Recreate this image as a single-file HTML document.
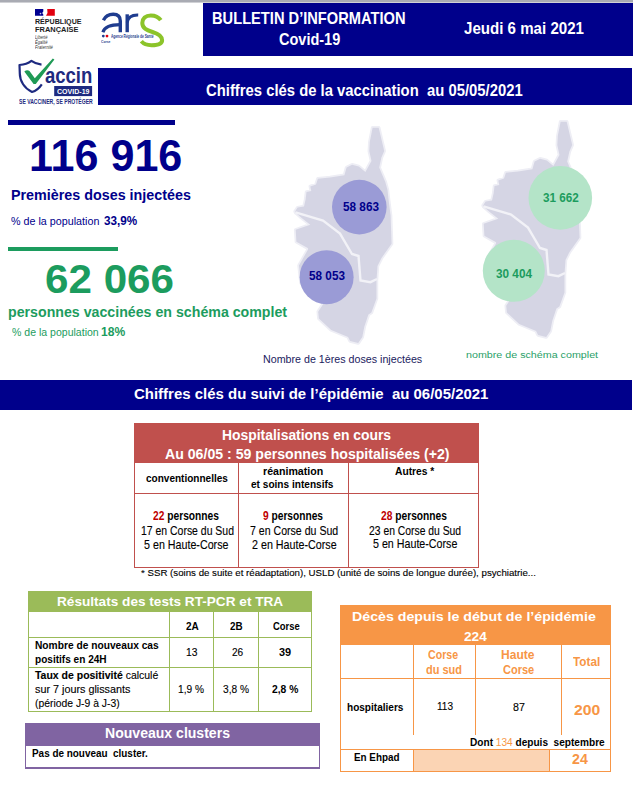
<!DOCTYPE html>
<html><head><meta charset="utf-8">
<style>
html,body{margin:0;padding:0;background:#fff;}
body{width:633px;height:790px;position:relative;overflow:hidden;font-family:"Liberation Sans",sans-serif;}
.b{position:absolute;box-sizing:border-box;}
.t{position:absolute;white-space:nowrap;line-height:1;transform-origin:0 0;font-family:"Liberation Sans",sans-serif;}
</style></head><body>
<div class="b" style="left:0;top:0;width:633px;height:2px;background:#a9abb3"></div>
<div class="b" style="left:0;top:2px;width:633px;height:1px;background:#d0d1d5"></div>
<div class="b" style="left:203px;top:3px;width:430px;height:53px;background:#00008b"></div>
<div class="b" style="left:98px;top:68px;width:534px;height:37px;background:#00008b"></div>
<div class="b" style="left:8px;top:120px;width:167px;height:5px;background:#00008b"></div>
<div class="b" style="left:8px;top:247px;width:110px;height:4px;background:#1c9c5e"></div>
<div class="b" style="left:0;top:380px;width:632px;height:30px;background:#00008b"></div>
<svg class="b" style="left:0;top:0" width="633" height="790" viewBox="0 0 633 790">
<defs>
<path id="corse" d="M372.6,127.7 L378.7,127.7 L384.2,151 L381.4,157.6 L379.2,167.6 L382,174.2 L385.3,182 L387.5,190 L388.6,200 L390.6,215.4 L391.6,243.7 L381.5,257.9 L377.5,266 L376.5,280.2 L376.5,298.4 L371.4,312.6 L368.4,314.6 L364.3,326.8 L362.3,336.9 L358.2,343 L350.1,341 L348.1,336.9 L331.2,330 L318.9,318.5 L318.2,311.8 L323.6,303.4 L308.4,292 L300.9,282.6 L299,265.5 L308.3,249 L307.7,248.1 L296.4,241.8 L295.7,229.8 L310.3,224.7 L301.4,217.7 L295.7,212.7 L295.1,211.4 L297.6,207.6 L304,206.4 L305.6,199.6 L306.5,192 L311.3,191.1 L310.3,186.4 L316,184.5 L317.9,178.8 L330,177.5 L344.4,175.3 L346.6,167.6 L352.1,164.8 L358.8,166.5 L365.4,172 L371.5,160.9 L369.3,151 L369.8,142.1 Z"/>
<path id="div" d="M295.5,212.3 L323,220.5 L340,233.6 L352,254 L358.5,256 L360.5,280.5 L370.4,282.2 L377,279"/>
</defs>
<g>
<use href="#corse" fill="#d5d5e4" stroke="#eeeef5" stroke-width="3.5" stroke-linejoin="round" paint-order="stroke"/>
<use href="#div" fill="none" stroke="#f2f2f7" stroke-width="2.4"/>
<circle cx="359.3" cy="207.1" r="27.3" fill="#9a9bd6"/>
<circle cx="326.6" cy="277.2" r="27" fill="#9a9bd6"/>
</g>
<g transform="translate(188,-6)">
<use href="#corse" fill="#d5d5e4" stroke="#eeeef5" stroke-width="3.5" stroke-linejoin="round" paint-order="stroke"/>
<use href="#div" fill="none" stroke="#f2f2f7" stroke-width="2.4"/>
</g>
<circle cx="560.3" cy="197.9" r="31.8" fill="#b4e4c8"/>
<circle cx="513.8" cy="270.8" r="31" fill="#b4e4c8"/>
</svg>
<div class="b" style="left:134px;top:423px;width:345px;height:40px;background:#c0504d"></div>
<div class="b" style="left:134px;top:423px;width:345px;height:1px;background:#c0504d"></div>
<div class="b" style="left:134px;top:567px;width:345px;height:1px;background:#c0504d"></div>
<div class="b" style="left:134px;top:423px;width:1px;height:145px;background:#c0504d"></div>
<div class="b" style="left:478px;top:423px;width:1px;height:145px;background:#c0504d"></div>
<div class="b" style="left:134px;top:493px;width:345px;height:1px;background:#c0504d"></div>
<div class="b" style="left:238px;top:463px;width:1px;height:105px;background:#c0504d"></div>
<div class="b" style="left:348px;top:463px;width:1px;height:105px;background:#c0504d"></div>
<div class="b" style="left:28px;top:591px;width:284px;height:21px;background:#9bbb59"></div>
<div class="b" style="left:28px;top:591px;width:284px;height:1px;background:#9bbb59"></div>
<div class="b" style="left:28px;top:711px;width:284px;height:1px;background:#9bbb59"></div>
<div class="b" style="left:28px;top:591px;width:1px;height:121px;background:#9bbb59"></div>
<div class="b" style="left:311px;top:591px;width:1px;height:121px;background:#9bbb59"></div>
<div class="b" style="left:28px;top:637px;width:284px;height:1px;background:#9bbb59"></div>
<div class="b" style="left:28px;top:667px;width:284px;height:1px;background:#9bbb59"></div>
<div class="b" style="left:169px;top:612px;width:1px;height:100px;background:#9bbb59"></div>
<div class="b" style="left:213px;top:612px;width:1px;height:100px;background:#9bbb59"></div>
<div class="b" style="left:258px;top:612px;width:1px;height:100px;background:#9bbb59"></div>
<div class="b" style="left:25px;top:723px;width:295px;height:23px;background:#8064a2"></div>
<div class="b" style="left:25px;top:723px;width:295px;height:1px;background:#8064a2"></div>
<div class="b" style="left:25px;top:768px;width:295px;height:1px;background:#8064a2"></div>
<div class="b" style="left:25px;top:723px;width:1px;height:46px;background:#8064a2"></div>
<div class="b" style="left:319px;top:723px;width:1px;height:46px;background:#8064a2"></div>
<div class="b" style="left:25px;top:767px;width:295px;height:2px;background:#8064a2"></div>
<div class="b" style="left:340px;top:605px;width:271px;height:40px;background:#f79646"></div>
<div class="b" style="left:413px;top:749px;width:136px;height:22px;background:#fbd4b4"></div>
<div class="b" style="left:340px;top:605px;width:271px;height:1px;background:#f79646"></div>
<div class="b" style="left:340px;top:771px;width:271px;height:1px;background:#f79646"></div>
<div class="b" style="left:340px;top:605px;width:1px;height:167px;background:#f79646"></div>
<div class="b" style="left:610px;top:605px;width:1px;height:167px;background:#f79646"></div>
<div class="b" style="left:340px;top:678px;width:271px;height:1px;background:#f79646"></div>
<div class="b" style="left:340px;top:749px;width:271px;height:1px;background:#f79646"></div>
<div class="b" style="left:413px;top:645px;width:1px;height:90px;background:#f79646"></div>
<div class="b" style="left:475px;top:645px;width:1px;height:90px;background:#f79646"></div>
<div class="b" style="left:561px;top:645px;width:1px;height:90px;background:#f79646"></div>
<div class="b" style="left:413px;top:749px;width:1px;height:23px;background:#f79646"></div>
<div class="b" style="left:549px;top:749px;width:1px;height:23px;background:#f79646"></div><svg class="b" style="left:0;top:0" width="200" height="110" viewBox="0 0 200 110">
<path d="M35,9 L43.3,9 L43.3,11.5 L42.2,13 L43.3,14.5 L43.3,15.8 L35,15.8 Z" fill="#000091"/>
<circle cx="40.5" cy="13.6" r="0.8" fill="#c8c8e8"/>
<path d="M47.2,9 L54.8,9 L54.8,15.8 L46,15.8 L47.5,13 Z" fill="#e1000f"/>
<path d="M103.4,20.2 C105.5,16 109,14.2 113.2,14.2 C117.8,14.2 120.3,16.8 120.3,21 L120.3,32.2" fill="none" stroke="#1f3c8f" stroke-width="3.4"/>
<path d="M120.3,24.6 C111,24.6 104.5,26.5 102.9,32.2" fill="none" stroke="#1f3c8f" stroke-width="3.2"/>
<path d="M127.2,14.3 L127.2,32.2" fill="none" stroke="#1f3c8f" stroke-width="3.4"/>
<path d="M127.2,22.5 C128,17 131.5,14.8 138.2,15" fill="none" stroke="#1f3c8f" stroke-width="3"/>
<path d="M160.8,20.2 C158.5,16.8 155,15.4 150.8,15.4 C145.5,15.4 142.3,18.5 142.3,23 C142.3,28.5 147,30.2 152.5,32 C159,34 162.1,36.8 162.1,40.2 C162.1,44 158,45.2 151.5,45.2 C147,45.2 143.5,43.8 141.3,41.3" fill="none" stroke="#8cc42a" stroke-width="4"/>
<circle cx="103.3" cy="36.1" r="1.4" fill="#1f3c8f"/>
<circle cx="107" cy="36.1" r="1.4" fill="#e1000f"/>
<path d="M41.8,84.3 C39,88.5 35.5,91 32,92 C24.5,88.5 19.8,81 19.8,73.5 L19.5,65 C24.5,64.5 28.5,63 31.4,60.8 C34.5,63 38,64.2 41.5,64.6" fill="none" stroke="#1e2a80" stroke-width="2.2" stroke-linejoin="round"/>
<path d="M24.3,71.5 C26,70 28,69.8 29.5,71 L34.8,78.2 L52.8,58.4 L54.4,59.4 L35.8,84 L33.6,84 Z" fill="#1f9a55"/>
<rect x="54.2" y="86" width="37.9" height="10.1" fill="#1e2a80"/>
</svg>

<div class="t" style="left:211.84px;top:11.06px;font-size:15.99px;font-weight:700;color:#fff;transform:scaleX(0.9171)">BULLETIN D&rsquo;INFORMATION</div>
<div class="t" style="left:278.60px;top:31.49px;font-size:16.42px;font-weight:700;color:#fff;transform:scaleX(0.8841)">Covid-19</div>
<div class="t" style="left:464.00px;top:21.25px;font-size:16.72px;font-weight:700;color:#fff;transform:scaleX(0.9035)">Jeudi 6 mai 2021</div>
<div class="t" style="left:206.40px;top:82.66px;font-size:15.99px;font-weight:700;color:#fff;transform:scaleX(0.9282)">Chiffres cl&eacute;s de la vaccination&nbsp; au 05/05/2021</div>
<div class="t" style="left:28.77px;top:133.87px;font-size:44.33px;font-weight:700;color:#00008b;transform:scaleX(0.9715)">116 916</div>
<div class="t" style="left:10.55px;top:189.19px;font-size:13.95px;font-weight:700;color:#00008b;transform:scaleX(1.0275)">Premi&egrave;res doses inject&eacute;es</div>
<div class="t" style="left:10.50px;top:215.60px;font-size:10.63px;font-weight:400;color:#00008b;transform:scaleX(1.0110)">% de la population</div>
<div class="t" style="left:103.51px;top:215.51px;font-size:11.92px;font-weight:700;color:#00008b;transform:scaleX(0.9820)">33,9%</div>
<div class="t" style="left:45.00px;top:257.81px;font-size:41.57px;font-weight:700;color:#1c9c5e;transform:scaleX(1.0147)">62 066</div>
<div class="t" style="left:7.75px;top:303.56px;font-size:15.41px;font-weight:700;color:#1c9c5e;transform:scaleX(0.9207)">personnes vaccin&eacute;es en sch&eacute;ma complet</div>
<div class="t" style="left:12.30px;top:326.82px;font-size:11.32px;font-weight:400;color:#1c9c5e;transform:scaleX(0.9313)">% de la population</div>
<div class="t" style="left:101.37px;top:325.57px;font-size:12.79px;font-weight:700;color:#1c9c5e;transform:scaleX(0.9444)">18%</div>
<div class="t" style="left:342.81px;top:201.09px;font-size:12.65px;font-weight:700;color:#00008b;transform:scaleX(0.9302)">58 863</div>
<div class="t" style="left:309.19px;top:269.94px;font-size:12.35px;font-weight:700;color:#00008b;transform:scaleX(0.9525)">58 053</div>
<div class="t" style="left:542.70px;top:191.82px;font-size:12.50px;font-weight:700;color:#1c9c5e;transform:scaleX(0.9354)">31 662</div>
<div class="t" style="left:496.00px;top:268.37px;font-size:12.79px;font-weight:700;color:#1c9c5e;transform:scaleX(0.9204)">30 404</div>
<div class="t" style="left:263.35px;top:355.19px;font-size:10.17px;font-weight:400;color:#1a1a5e;transform:scaleX(1.0521)">Nombre de 1&egrave;res doses inject&eacute;es</div>
<div class="t" style="left:465.70px;top:350.39px;font-size:9.94px;font-weight:400;color:#2a9f68;transform:scaleX(1.0789)">nombre de sch&eacute;ma complet</div>
<div class="t" style="left:133.60px;top:386.08px;font-size:15.26px;font-weight:700;color:#fff;transform:scaleX(0.9816)">Chiffres cl&eacute;s du suivi de l&rsquo;&eacute;pid&eacute;mie&nbsp; au 06/05/2021</div>
<div class="t" style="left:221.60px;top:428.51px;font-size:13.81px;font-weight:700;color:#fff;transform:scaleX(1.0070)">Hospitalisations en cours</div>
<div class="t" style="left:165.10px;top:447.71px;font-size:13.81px;font-weight:700;color:#fff;transform:scaleX(1.0237)">Au 06/05 : 59 personnes hospitalis&eacute;es (+2)</div>
<div class="t" style="left:145.80px;top:472.50px;font-size:11.45px;font-weight:700;color:#000;transform:scaleX(0.8761)">conventionnelles</div>
<div class="t" style="left:263.11px;top:466.10px;font-size:11.45px;font-weight:700;color:#000;transform:scaleX(0.9290)">r&eacute;animation</div>
<div class="t" style="left:251.40px;top:478.70px;font-size:11.45px;font-weight:700;color:#000;transform:scaleX(0.8824)">et soins intensifs</div>
<div class="t" style="left:394.59px;top:465.16px;font-size:11.63px;font-weight:700;color:#000;transform:scaleX(0.8828)">Autres *</div>
<div class="t" style="left:153.19px;top:511.31px;font-size:11.92px;font-weight:700;color:#000;transform:scaleX(0.8592)"><span style="color:#c00000">22</span> personnes</div>
<div class="t" style="left:140.80px;top:525.71px;font-size:11.92px;font-weight:400;color:#000;transform:scaleX(0.8778);-webkit-text-stroke:0.12px currentColor">17 en Corse du Sud</div>
<div class="t" style="left:143.90px;top:539.51px;font-size:11.92px;font-weight:400;color:#000;transform:scaleX(0.8989);-webkit-text-stroke:0.12px currentColor">5 en Haute-Corse</div>
<div class="t" style="left:262.70px;top:511.31px;font-size:11.92px;font-weight:700;color:#000;transform:scaleX(0.8552)"><span style="color:#c00000">9</span> personnes</div>
<div class="t" style="left:250.32px;top:525.71px;font-size:11.92px;font-weight:400;color:#000;transform:scaleX(0.8885);-webkit-text-stroke:0.12px currentColor">7 en Corse du Sud</div>
<div class="t" style="left:251.52px;top:539.51px;font-size:11.92px;font-weight:400;color:#000;transform:scaleX(0.9012);-webkit-text-stroke:0.12px currentColor">2 en Haute-Corse</div>
<div class="t" style="left:380.89px;top:511.31px;font-size:11.92px;font-weight:700;color:#000;transform:scaleX(0.8594)"><span style="color:#c00000">28</span> personnes</div>
<div class="t" style="left:369.02px;top:525.71px;font-size:11.92px;font-weight:400;color:#000;transform:scaleX(0.8698);-webkit-text-stroke:0.12px currentColor">23 en Corse du Sud</div>
<div class="t" style="left:373.31px;top:538.51px;font-size:11.92px;font-weight:400;color:#000;transform:scaleX(0.8978);-webkit-text-stroke:0.12px currentColor">5 en Haute-Corse</div>
<div class="t" style="left:140.88px;top:569.25px;font-size:9.16px;font-weight:400;color:#000;transform:scaleX(1.0585);-webkit-text-stroke:0.12px currentColor">* SSR (soins de suite et r&eacute;adaptation), USLD (unit&eacute; de soins de longue dur&eacute;e), psychiatrie...</div>
<div class="t" style="left:56.74px;top:595.48px;font-size:13.37px;font-weight:700;color:#fff;transform:scaleX(1.0190)">R&eacute;sultats des tests RT-PCR et TRA</div>
<div class="t" style="left:185.55px;top:619.76px;font-size:11.63px;font-weight:700;color:#000;transform:scaleX(0.8592)">2A</div>
<div class="t" style="left:230.18px;top:619.76px;font-size:11.63px;font-weight:700;color:#000;transform:scaleX(0.8467)">2B</div>
<div class="t" style="left:272.60px;top:619.76px;font-size:11.63px;font-weight:700;color:#000;transform:scaleX(0.8120)">Corse</div>
<div class="t" style="left:34.80px;top:640.20px;font-size:11.34px;font-weight:700;color:#000;transform:scaleX(0.9013)">Nombre de nouveaux cas</div>
<div class="t" style="left:34.80px;top:654.40px;font-size:11.34px;font-weight:700;color:#000;transform:scaleX(0.8892)">positifs en 24H</div>
<div class="t" style="left:185.88px;top:646.82px;font-size:10.61px;font-weight:400;color:#000;transform:scaleX(0.9703);-webkit-text-stroke:0.12px currentColor">13</div>
<div class="t" style="left:231.59px;top:646.82px;font-size:10.61px;font-weight:400;color:#000;transform:scaleX(0.9507);-webkit-text-stroke:0.12px currentColor">26</div>
<div class="t" style="left:279.00px;top:646.82px;font-size:10.61px;font-weight:700;color:#000;transform:scaleX(1.0313)">39</div>
<div class="t" style="left:35.04px;top:669.60px;font-size:11.34px;font-weight:400;color:#000;transform:scaleX(0.9251);-webkit-text-stroke:0.12px currentColor"><b>Taux de positivit&eacute;</b> calcul&eacute;</div>
<div class="t" style="left:34.83px;top:683.60px;font-size:11.34px;font-weight:400;color:#000;transform:scaleX(0.9528);-webkit-text-stroke:0.12px currentColor">sur 7 jours glissants</div>
<div class="t" style="left:34.81px;top:698.00px;font-size:11.34px;font-weight:400;color:#000;transform:scaleX(0.9145);-webkit-text-stroke:0.12px currentColor">(p&eacute;riode J-9 &agrave; J-3)</div>
<div class="t" style="left:177.89px;top:683.57px;font-size:10.90px;font-weight:400;color:#000;transform:scaleX(0.9303);-webkit-text-stroke:0.12px currentColor">1,9 %</div>
<div class="t" style="left:223.31px;top:683.57px;font-size:10.90px;font-weight:400;color:#000;transform:scaleX(0.9360);-webkit-text-stroke:0.12px currentColor">3,8 %</div>
<div class="t" style="left:272.00px;top:683.57px;font-size:10.90px;font-weight:700;color:#000;transform:scaleX(0.9471)">2,8 %</div>
<div class="t" style="left:105.40px;top:726.46px;font-size:14.10px;font-weight:700;color:#fff;transform:scaleX(0.9971)">Nouveaux clusters</div>
<div class="t" style="left:32.00px;top:748.12px;font-size:11.19px;font-weight:700;color:#000;transform:scaleX(0.8867)">Pas de nouveau&nbsp; cluster.</div>
<div class="t" style="left:352.35px;top:609.96px;font-size:13.52px;font-weight:700;color:#fff;transform:scaleX(1.0506)">D&eacute;c&egrave;s depuis le d&eacute;but de l&rsquo;&eacute;pid&eacute;mie</div>
<div class="t" style="left:463.52px;top:629.76px;font-size:13.52px;font-weight:700;color:#fff;transform:scaleX(1.0110)">224</div>
<div class="t" style="left:428.41px;top:647.93px;font-size:13.08px;font-weight:700;color:#f79646;transform:scaleX(0.8105)">Corse</div>
<div class="t" style="left:426.41px;top:662.53px;font-size:13.08px;font-weight:700;color:#f79646;transform:scaleX(0.8392)">du sud</div>
<div class="t" style="left:501.36px;top:647.93px;font-size:13.08px;font-weight:700;color:#f79646;transform:scaleX(0.9201)">Haute</div>
<div class="t" style="left:502.70px;top:662.53px;font-size:13.08px;font-weight:700;color:#f79646;transform:scaleX(0.8415)">Corse</div>
<div class="t" style="left:572.80px;top:655.13px;font-size:13.08px;font-weight:700;color:#f79646;transform:scaleX(0.8977)">Total</div>
<div class="t" style="left:346.59px;top:702.42px;font-size:11.32px;font-weight:700;color:#000;transform:scaleX(0.8883)">hospitaliers</div>
<div class="t" style="left:436.71px;top:701.20px;font-size:11.34px;font-weight:400;color:#000;transform:scaleX(0.8887);-webkit-text-stroke:0.12px currentColor">113</div>
<div class="t" style="left:513.32px;top:702.40px;font-size:11.34px;font-weight:400;color:#000;transform:scaleX(0.9421);-webkit-text-stroke:0.12px currentColor">87</div>
<div class="t" style="left:573.51px;top:701.80px;font-size:15.12px;font-weight:700;color:#f79646;transform:scaleX(1.0390)">200</div>
<div class="t" style="left:469.50px;top:737.25px;font-size:11.05px;font-weight:700;color:#000;transform:scaleX(0.9140)">Dont <span style="color:#f79646;font-weight:400">134</span> depuis&nbsp; septembre</div>
<div class="t" style="left:354.19px;top:752.00px;font-size:11.34px;font-weight:700;color:#000;transform:scaleX(0.8714)">En Ehpad</div>
<div class="t" style="left:571.88px;top:751.40px;font-size:15.12px;font-weight:700;color:#f79646;transform:scaleX(0.9379)">24</div>
<div class="t" style="left:34.81px;top:18.40px;font-size:7.56px;font-weight:700;color:#1e1e1e;transform:scaleX(0.9396)">R&Eacute;PUBLIQUE</div>
<div class="t" style="left:34.81px;top:26.23px;font-size:7.99px;font-weight:700;color:#1e1e1e;transform:scaleX(0.9312)">FRAN&Ccedil;AISE</div>
<div class="t" style="left:35.30px;top:36.39px;font-size:4.51px;font-weight:400;color:#333;transform:scaleX(0.9102)"><i>Libert&eacute;</i></div>
<div class="t" style="left:35.30px;top:41.39px;font-size:4.51px;font-weight:400;color:#333;transform:scaleX(0.9102)"><i>&Eacute;galit&eacute;</i></div>
<div class="t" style="left:35.29px;top:45.99px;font-size:4.51px;font-weight:400;color:#333;transform:scaleX(0.9306)"><i>Fraternit&eacute;</i></div>
<div class="t" style="left:110.60px;top:33.89px;font-size:5.09px;font-weight:700;color:#1f3c8f;transform:scaleX(0.6379)">Agence R&eacute;gionale de Sant&eacute;</div>
<div class="t" style="left:101.00px;top:40.31px;font-size:4.36px;font-weight:700;color:#1f3c8f;transform:scaleX(0.7564)">Corse</div>
<div class="t" style="left:44.90px;top:64.63px;font-size:21.22px;font-weight:700;color:#1e2a80;transform:scaleX(0.8720)">accin</div>
<div class="t" style="left:56.89px;top:87.85px;font-size:7.27px;font-weight:700;color:#fff;transform:scaleX(0.9697)">COVID-19</div>
<div class="t" style="left:18.51px;top:98.86px;font-size:6.54px;font-weight:700;color:#1e2a80;transform:scaleX(0.7760)">SE VACCINER, SE PROT&Eacute;GER</div>
</body></html>
